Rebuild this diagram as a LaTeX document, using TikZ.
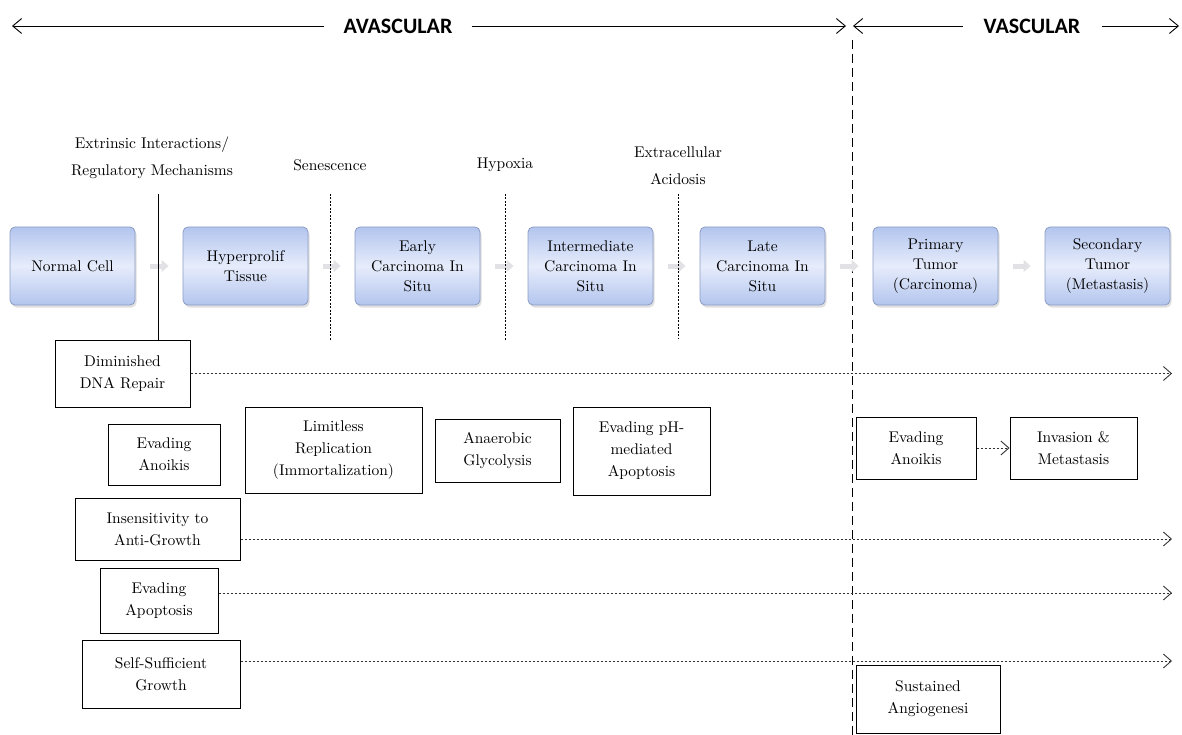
\documentclass[tikz,border=0pt]{standalone}
\usepackage{fontspec}
\newfontfamily\serif{lmroman10-regular}[Extension=.otf]
\newfontfamily\titlefont{Carlito}
\usetikzlibrary{arrows.meta,shadows}
\definecolor{bbord}{HTML}{8C9CC4}
\definecolor{bdark}{HTML}{B3C5EE}
\definecolor{blight}{HTML}{E6ECFB}
\definecolor{ggray}{HTML}{E2E2E6}
\begin{document}
\begin{tikzpicture}[x=1pt,y=-1pt,
  txt/.style={font=\serif\fontsize{15.5}{20}\selectfont, align=center, inner sep=0pt},
  lbl/.style={font=\serif\fontsize{15.5}{27}\selectfont, align=center, inner sep=0pt},
  stage/.style={draw=bbord, line width=0.8pt, rounded corners=5pt,
    top color=bdark, bottom color=bdark, middle color=blight,
    minimum width=125pt, minimum height=78pt, align=center,
    font=\serif\fontsize{15.5}{20}\selectfont, inner sep=2pt,
    drop shadow={opacity=0.25, shadow xshift=1.5pt, shadow yshift=-2.5pt}},
  wbox/.style={draw=black, line width=1pt, fill=white, align=center,
    font=\serif\fontsize{15.5}{22}\selectfont, inner sep=2pt},
  title/.style={font=\titlefont\bfseries\fontsize{22}{24}\selectfont, inner xsep=19pt, inner ysep=0pt},
  topline/.style={line width=0.9pt, -{Straight Barb[length=9pt,width=15pt,line width=0.9pt]}},
  trail/.style={line width=0.9pt, dash pattern=on 2.5pt off 1.5pt, draw=black!80,
    -{Straight Barb[length=8pt,width=14pt,line width=0.9pt]}},
  divider/.style={line width=0.9pt, dash pattern=on 2pt off 1.5pt},
  vdiv/.style={line width=1pt, dash pattern=on 9pt off 5pt},
  garrow/.style={draw=ggray, line width=5pt, shorten <=15pt, shorten >=14pt,
    -{Triangle[length=7pt,width=12pt]}}
]
\useasboundingbox (0,0) rectangle (1182,735);

% ---- top banner
\node[title] (avas) at (398,26) {AVASCULAR};
\node[title, inner xsep=21pt] (vas) at (1032,26) {VASCULAR};
\coordinate (aL) at (12,26);
\coordinate (aR) at (846,26);
\coordinate (vL) at (853,26);
\coordinate (vR) at (1179,26);
\draw[topline] (avas.west) -- (aL);
\draw[topline] (avas.east) -- (aR);
\draw[topline] (vas.west) -- (vL);
\draw[topline] (vas.east) -- (vR);

% ---- vascular divider
\coordinate (vt) at (852,40);
\coordinate (vb) at (852,735);
\draw[vdiv] (vt) -- (vb);

% ---- annotation labels and dividers
\node[lbl] (l1) at (152,158) {Extrinsic Interactions/\\Regulatory Mechanisms};
\node[txt] (l2) at (330,165) {Senescence};
\node[txt] (l3) at (505,165) {Hypoxia};
\node[lbl] (l4) at (678,166) {Extracellular\\Acidosis};
\coordinate (d1t) at (158,194); \coordinate (d1b) at (158,340);
\coordinate (d2t) at (330,194); \coordinate (d2b) at (330,340);
\coordinate (d3t) at (505,194); \coordinate (d3b) at (505,340);
\coordinate (d4t) at (678,194); \coordinate (d4b) at (678,338);

% ---- stage boxes
\node[stage] (s1) at (72.5,266) {Normal Cell};
\node[stage] (s2) at (245.5,266) {Hyperprolif\\Tissue};
\node[stage] (s3) at (417.5,266) {Early\\Carcinoma In\\Situ};
\node[stage] (s4) at (590.5,266) {Intermediate\\Carcinoma In\\Situ};
\node[stage] (s5) at (762.5,266) {Late\\Carcinoma In\\Situ};
\node[stage] (s6) at (935.5,266) {Primary\\Tumor\\(Carcinoma)};
\node[stage] (s7) at (1107.5,266) {Secondary\\Tumor\\(Metastasis)};
\draw[garrow] (s1.east) -- (s2.west);
\draw[garrow] (s2.east) -- (s3.west);
\draw[garrow] (s3.east) -- (s4.west);
\draw[garrow] (s4.east) -- (s5.west);
\draw[garrow] (s5.east) -- (s6.west);
\draw[garrow] (s6.east) -- (s7.west);

\draw[line width=0.9pt] (d1t) -- (d1b);
\draw[divider] (d2t) -- (d2b);
\draw[divider] (d3t) -- (d3b);
\draw[divider] (d4t) -- (d4b);

% ---- hallmark boxes
\node[wbox, minimum width=135pt, minimum height=67pt] (dim) at (122.5,373.5) {Diminished\\DNA Repair};
\node[wbox, minimum width=112pt, minimum height=61pt] (ano) at (164,454.5) {Evading\\Anoikis};
\node[wbox, minimum width=177pt, minimum height=86pt] (lim) at (333.5,450) {Limitless\\Replication\\(Immortalization)};
\node[wbox, minimum width=125pt, minimum height=63pt] (ana) at (497.5,450.5) {Anaerobic\\Glycolysis};
\node[wbox, minimum width=137pt, minimum height=88pt] (ph) at (641.5,451) {Evading pH-\\mediated\\Apoptosis};
\node[wbox, minimum width=120pt, minimum height=62pt] (vano) at (916,448) {Evading\\Anoikis};
\node[wbox, minimum width=127pt, minimum height=62pt] (inv) at (1073.5,448) {Invasion \&\\Metastasis};
\node[wbox, minimum width=165pt, minimum height=62pt] (ins) at (157.5,529) {Insensitivity to\\Anti-Growth};
\node[wbox, minimum width=118pt, minimum height=65pt] (apo) at (159,600.5) {Evading\\Apoptosis};
\node[wbox, minimum width=158pt, minimum height=68pt] (ssg) at (161,674) {Self-Sufficient\\Growth};
\node[wbox, minimum width=144pt, minimum height=68pt] (ang) at (928,699) {Sustained\\Angiogenesi};

% ---- trails
\coordinate (e1) at (1172,373.5);
\coordinate (e2) at (1172,539);
\coordinate (e3) at (1172,593);
\coordinate (e4) at (1172,661);
\draw[trail] (dim.east) -- (e1);
\draw[trail] (ins.east |- e2) -- (e2);
\draw[trail] (apo.east |- e3) -- (e3);
\draw[trail] (ssg.east |- e4) -- (e4);
\draw[trail] (vano.east) -- (inv.west);
\end{tikzpicture}
\end{document}
